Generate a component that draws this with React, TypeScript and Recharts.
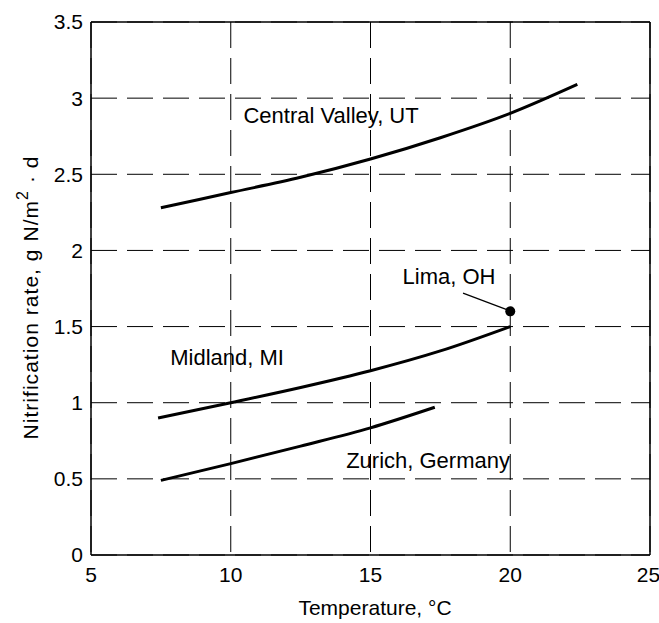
import { ComposedChart, Line, Scatter, XAxis, YAxis, CartesianGrid, ReferenceLine, ReferenceDot } from 'recharts'

const xTicks = [5, 10, 15, 20, 25]
const yTicks = [0, 0.5, 1, 1.5, 2, 2.5, 3, 3.5]

// site curves, temperature (°C) vs nitrification rate (g N/m2·d)
const centralValleyTemp = [7.5, 10, 12.5, 15, 17.5, 20, 22.4]
const centralValleyRate = [2.28, 2.38, 2.48, 2.6, 2.74, 2.9, 3.09]
const midlandTemp = [7.4, 10, 12.5, 15, 17.5, 20]
const midlandRate = [0.9, 1.0, 1.1, 1.21, 1.34, 1.5]
const zurichTemp = [7.5, 10, 12.5, 15, 17.3]
const zurichRate = [0.49, 0.6, 0.715, 0.835, 0.97]
const limaTemp = [20]
const limaRate = [1.6]

const siteNames = ['Central Valley, UT', 'Midland, MI', 'Zurich, Germany', 'Lima, OH']

const toPoints = (xs: number[], ys: number[]) => xs.map((x, i) => ({ x, y: ys[i] }))

const FONT = '"Liberation Sans", Arial, Helvetica, sans-serif'

// where the site names sit (data units)
const namePos = [
  { x: 13.59, y: 2.89 },
  { x: 9.87, y: 1.297 },
  { x: 17.06, y: 0.624 },
  { x: 17.81, y: 1.832 },
]

export default function App() {
  const tickStyle = { fill: '#000', fontSize: 21, fontFamily: FONT }
  return (
    <div style={{ position: 'absolute', left: 0, top: 0, background: '#fff' }}>
      <ComposedChart width={659} height={623} margin={{ top: 22, right: 9, bottom: 28, left: 0 }}>
        <CartesianGrid stroke="#000" strokeWidth={1} strokeDasharray="26 10" />
        <XAxis
          type="number"
          dataKey="x"
          domain={[5, 25]}
          ticks={xTicks}
          tickLine={false}
          tickMargin={6}
          height={40}
          axisLine={{ stroke: '#000', strokeWidth: 1.5 }}
          tick={tickStyle}
          label={{
            content: () => (
              <text x={375} y={607} textAnchor="middle" dominantBaseline="central" fontSize={21} fontFamily={FONT} fill="#000">
                Temperature, °C
              </text>
            ),
          }}
        />
        <YAxis
          type="number"
          dataKey="y"
          domain={[0, 3.5]}
          ticks={yTicks}
          tickLine={false}
          width={91}
          axisLine={{ stroke: '#000', strokeWidth: 1.5 }}
          tick={tickStyle}
          label={{
            content: () => (
              <text
                transform="translate(30,298) rotate(-90)"
                textAnchor="middle"
                dominantBaseline="central"
                fontSize={21}
                fontFamily={FONT}
                fill="#000"
                textLength={283}
                lengthAdjust="spacing"
              >
                Nitrification rate, g N/m<tspan dy={-8} fontSize={16}>2</tspan>
                <tspan dy={8}> · d</tspan>
              </text>
            ),
          }}
        />
        <ReferenceLine y={3.5} stroke="#000" strokeWidth={1.5} />
        <ReferenceLine x={25} stroke="#000" strokeWidth={1.5} />

        <Line data={toPoints(centralValleyTemp, centralValleyRate)} dataKey="y" type="monotone" stroke="#000" strokeWidth={3} dot={false} isAnimationActive={false} />
        <Line data={toPoints(midlandTemp, midlandRate)} dataKey="y" type="monotone" stroke="#000" strokeWidth={3} dot={false} isAnimationActive={false} />
        <Line data={toPoints(zurichTemp, zurichRate)} dataKey="y" type="monotone" stroke="#000" strokeWidth={3} dot={false} isAnimationActive={false} />

        <ReferenceLine
          segment={[{ x: 18.31, y: 1.72 }, { x: 19.9, y: 1.61 }]}
          stroke="#000"
          strokeWidth={1.2}
        />
        <Scatter
          data={toPoints(limaTemp, limaRate)}
          dataKey="y"
          isAnimationActive={false}
          shape={(p: any) => <circle cx={p.cx} cy={p.cy} r={5} fill="#000" />}
        />

        {siteNames.map((name, i) => (
          <ReferenceDot
            key={name}
            x={namePos[i].x}
            y={namePos[i].y}
            r={0}
            fill="none"
            stroke="none"
            label={{ value: name, position: 'center', fill: '#000', fontSize: 22, fontFamily: FONT }}
          />
        ))}
      </ComposedChart>
    </div>
  )
}
